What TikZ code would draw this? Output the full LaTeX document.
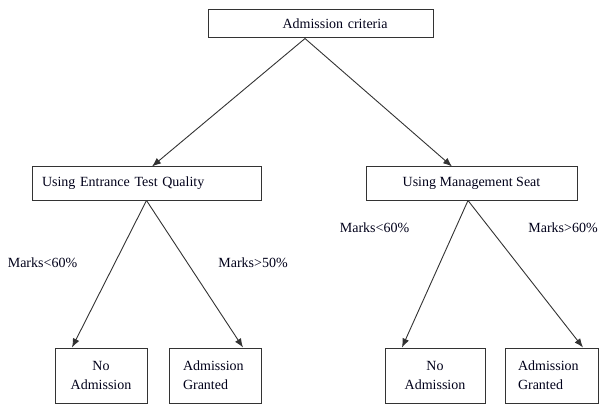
\documentclass[tikz,border=0pt]{standalone}
\usepackage{fontspec}
\setmainfont{Liberation Serif}
\newfontfamily\refserif{Liberation Serif}
\usetikzlibrary{arrows.meta}
\begin{document}
\begin{tikzpicture}[x=1pt,y=-1pt,
  font=\refserif\fontsize{14}{19}\selectfont,
  box/.style={draw=black!80,line width=1pt,inner sep=0pt,text=black!90!blue},
  lbl/.style={inner sep=0pt,text=black!90!blue},
  conn/.style={draw=black!80,line width=0.9pt,-{Latex[length=9pt,width=7pt]}}]
\useasboundingbox (0,0) rectangle (599,406);
\node[box,minimum width=225pt,minimum height=28pt,text width=134pt,align=right] (top) at (320.5,24) {Admission criteria};
\node[box,minimum width=229pt,minimum height=33pt,text width=209pt,align=left] (lm) at (146.5,183.5) {Using Entrance Test Quality};
\node[box,minimum width=211pt,minimum height=33pt,align=center] (rm) at (471.5,183.5) {Using Management Seat};
\node[box,minimum width=92pt,minimum height=55pt,text width=80pt,align=center] (b1) at (101,375.5) {No\\Admission};
\node[box,minimum width=92pt,minimum height=55pt,text width=64pt,align=left] (b2) at (215,375.5) {Admission\\Granted};
\node[box,minimum width=100pt,minimum height=55pt,text width=80pt,align=center] (b3) at (435,375.5) {No\\Admission};
\node[box,minimum width=93pt,minimum height=55pt,text width=67pt,align=left] (b4) at (551.5,375.5) {Admission\\Granted};
\node[lbl] (l1) at (42.5,263) {Marks<60\%};
\node[lbl] (l2) at (253,263) {Marks>50\%};
\node[lbl] (l3) at (374.5,228) {Marks<60\%};
\node[lbl] (l4) at (563,228) {Marks>60\%};
\coordinate (tapex) at ([xshift=-15.5pt]top.south);
\draw[conn] (tapex) -- ([xshift=5.5pt]lm.north);
\draw[conn] (tapex) -- ([xshift=-19.5pt]rm.north);
\draw[conn] (lm.south) -- ([xshift=-29pt]b1.north);
\draw[conn] (lm.south) -- ([xshift=28pt]b2.north);
\coordinate (rapex) at ([xshift=-3.5pt]rm.south);
\draw[conn] (rapex) -- ([xshift=-33pt]b3.north);
\draw[conn] (rapex) -- ([xshift=31.5pt]b4.north);
\end{tikzpicture}
\end{document}
